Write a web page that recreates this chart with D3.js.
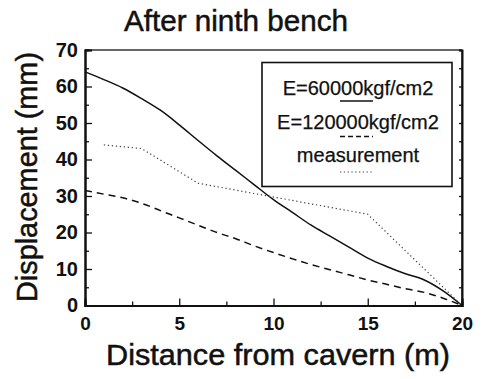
<!DOCTYPE html>
<html lang="en">
  <head>
    <meta charset="utf-8">
    <title>After ninth bench - D3</title>
    <style>
      body { margin: 0; background: #fff; }
      text { font-family: "Liberation Sans", Arial, sans-serif; fill: #111; }
    </style>
  </head>
  <body>
    <div id="dataviz_area"></div>

    <script src="https://d3js.org/d3.v7.min.js"></script>
    <script>
      // data
      var distance = [0, 1, 2, 3, 4, 5, 6, 7, 8, 9, 10, 11, 12, 13, 14, 15, 16, 17, 18, 19, 20]
      var dispE60000 = [64, 61.9, 59.6, 56.7, 53.5, 49.5, 45.2, 41, 37, 33, 29, 25.5, 22, 19, 16, 13, 10.7, 8.7, 7, 4, 0]
      var dispE120000 = [31.5, 30.5, 29.5, 28, 26, 24, 22, 20, 18.3, 16.3, 14.5, 12.8, 11.2, 9.8, 8.4, 7, 5.8, 4.6, 3.6, 2, 0]
      var measDistance = [1, 3, 6, 15, 20]
      var measDisp = [44, 43, 33.5, 25, 0]

      var xTicks = [0, 5, 10, 15, 20]
      var xMinorTicks = [2.5, 7.5, 12.5, 17.5]
      var yTicks = [0, 10, 20, 30, 40, 50, 60, 70]
      var yMinorTicks = [5, 15, 25, 35, 45, 55, 65]

      var legendLabels = ["E=60000kgf/cm2", "E=120000kgf/cm2", "measurement"]

      var W = 482, H = 379
      var margins = {top: 50, right: 20, bottom: 73.5, left: 85}
      var width = W - margins.left - margins.right,
        height = H - margins.top - margins.bottom

      var root = d3.select("#dataviz_area")
        .append("svg")
        .attr("width", W)
        .attr("height", H)

      var svg = root.append("g")
        .attr("transform", "translate(" + margins.left + "," + margins.top + ")")

      var x = d3.scaleLinear().domain([0, 20]).range([0, width])
      var y = d3.scaleLinear().domain([0, 70]).range([height, 0])

      // frame: top and right are thinner
      svg.append("line")
        .attr("x1", 0).attr("x2", width).attr("y1", 0).attr("y2", 0)
        .attr("stroke", "#333").attr("stroke-width", 1.5)
      svg.append("line")
        .attr("x1", width).attr("x2", width).attr("y1", 0).attr("y2", height)
        .attr("stroke", "#222").attr("stroke-width", 1.5)

      // axes with inward ticks
      var xAxis = svg.append("g")
        .attr("transform", "translate(0," + height + ")")
        .call(d3.axisBottom(x).tickValues(xTicks).tickSize(-7).tickPadding(11).tickFormat(d3.format("d")))
      var yAxis = svg.append("g")
        .call(d3.axisLeft(y).tickValues(yTicks).tickSize(-7).tickPadding(7).tickFormat(d3.format("d")))

      svg.append("g")
        .attr("transform", "translate(0," + height + ")")
        .call(d3.axisBottom(x).tickValues(xMinorTicks).tickSize(-4).tickFormat(""))
      svg.append("g")
        .call(d3.axisLeft(y).tickValues(yMinorTicks).tickSize(-4).tickFormat(""))
      svg.append("g")
        .attr("transform", "translate(" + width + ",0)")
        .call(d3.axisRight(y).tickValues(yTicks.concat(yMinorTicks)).tickSize(-3).tickFormat(""))

      svg.selectAll(".domain").attr("stroke", "#111").attr("stroke-width", 2)
      svg.selectAll(".tick line").attr("stroke", "#111").attr("stroke-width", 1.3)
      xAxis.selectAll("text").attr("font-size", 19).attr("font-weight", "bold").attr("fill", "#111")
      yAxis.selectAll("text").attr("font-size", 20).attr("font-weight", "bold").attr("fill", "#111")

      // curves
      var smooth = d3.line()
        .x(function(d) { return x(d[0]) })
        .y(function(d) { return y(d[1]) })
        .curve(d3.curveMonotoneX)
      var straight = d3.line()
        .x(function(d) { return x(d[0]) })
        .y(function(d) { return y(d[1]) })

      svg.append("path")
        .datum(d3.zip(distance, dispE60000))
        .attr("d", smooth)
        .attr("fill", "none").attr("stroke", "#111").attr("stroke-width", 1.5)

      svg.append("path")
        .datum(d3.zip(distance, dispE120000))
        .attr("d", smooth)
        .attr("fill", "none").attr("stroke", "#111").attr("stroke-width", 1.5)
        .attr("stroke-dasharray", "7,5")

      svg.append("path")
        .datum(d3.zip(measDistance, measDisp))
        .attr("d", straight)
        .attr("fill", "none").attr("stroke", "#444").attr("stroke-width", 1.2)
        .attr("stroke-dasharray", "1.3,2.7")

      // legend
      var legend = root.append("g")
      legend.append("rect")
        .attr("x", 262).attr("y", 62.5).attr("width", 190).attr("height", 124)
        .attr("fill", "#fff").attr("stroke", "#111").attr("stroke-width", 1.6)

      var dashes = [null, "5,3", "1.3,2.5"]
      legendLabels.forEach(function(label, i) {
        legend.append("text")
          .attr("x", 358).attr("y", 95 + i * 33.5)
          .attr("text-anchor", "middle")
          .attr("font-size", 20)
          .attr("stroke", "#111").attr("stroke-width", 0.25)
          .text(label)
        legend.append("line")
          .attr("x1", 340).attr("x2", 373)
          .attr("y1", 101 + i * 35.5).attr("y2", 101 + i * 35.5)
          .attr("stroke", i == 2 ? "#444" : "#111")
          .attr("stroke-width", i == 2 ? 1.1 : 1.4)
          .attr("stroke-dasharray", dashes[i])
      })

      // titles
      root.append("text")
        .attr("x", 236).attr("y", 31)
        .attr("text-anchor", "middle")
        .attr("font-size", 29)
        .attr("textLength", 224).attr("lengthAdjust", "spacingAndGlyphs")
        .attr("stroke", "#111").attr("stroke-width", 0.5)
        .text("After ninth bench")

      root.append("text")
        .attr("x", 278).attr("y", 365)
        .attr("text-anchor", "middle")
        .attr("font-size", 29)
        .attr("textLength", 344).attr("lengthAdjust", "spacingAndGlyphs")
        .attr("stroke", "#111").attr("stroke-width", 0.5)
        .text("Distance from cavern (m)")

      root.append("text")
        .attr("transform", "translate(37,177) rotate(-90)")
        .attr("text-anchor", "middle")
        .attr("font-size", 29)
        .attr("textLength", 250).attr("lengthAdjust", "spacingAndGlyphs")
        .attr("stroke", "#111").attr("stroke-width", 0.5)
        .text("Displacement (mm)")
    </script>
  </body>
</html>
